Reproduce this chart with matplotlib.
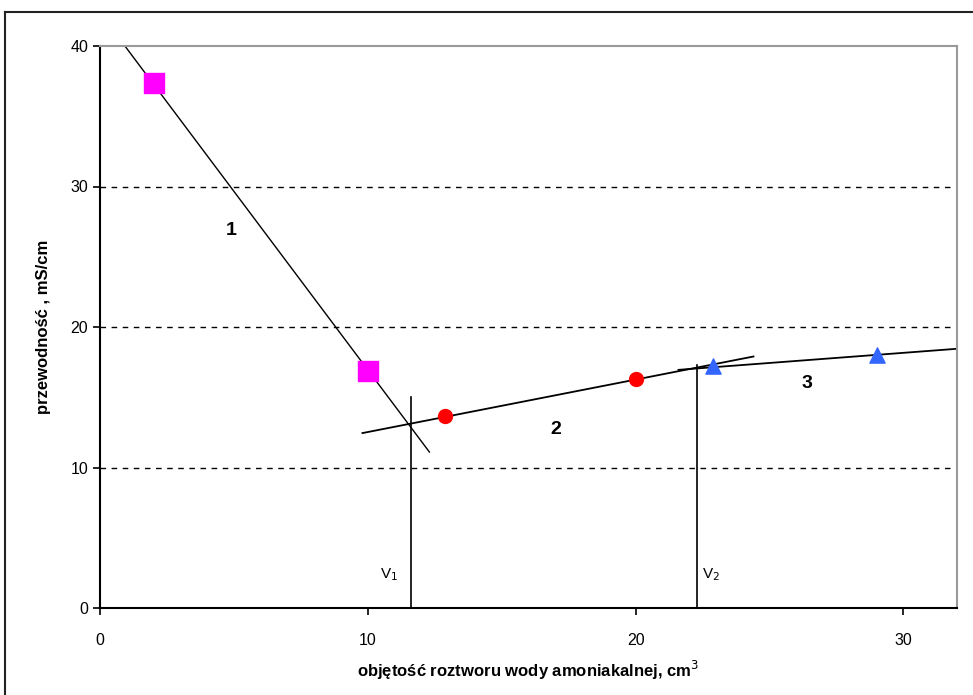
import matplotlib
matplotlib.use("Agg")
import matplotlib.pyplot as plt
from matplotlib.lines import Line2D

plt.rcParams['font.family'] = ['Liberation Sans', 'DejaVu Sans']

# data
sq_x = [2, 10]
sq_y = [37.4, 16.9]
ci_x = [12.9, 20.0]
ci_y = [13.7, 16.3]
tr_x = [22.9, 29.0]
tr_y = [17.2, 18.0]

line1_x = [0.93, 12.3]
line1_y = [40.0, 11.1]
line2_x = [9.8, 24.4]
line2_y = [12.45, 17.9]
line3_x = [21.6, 32.0]
line3_y = [16.95, 18.45]

v1_x, v1_top = 11.6, 15.0
v2_x, v2_top = 22.3, 17.3

xticks = [0, 10, 20, 30]
yticks = [0, 10, 20, 30, 40]

fig = plt.figure(figsize=(9.73, 6.95), dpi=100)
ax = fig.add_axes([100/973, 1-608/695, (957-100)/973, (608-46)/695])

# outer frame
fig.add_artist(Line2D([5/973, 5/973], [0, 1-12/695], color='#222222', lw=1.5, transform=fig.transFigure))
fig.add_artist(Line2D([5/973, 1], [1-12/695, 1-12/695], color='#222222', lw=1.5, transform=fig.transFigure))

for y in [10, 20, 30]:
    ax.axhline(y, color='black', lw=1, ls=(0, (4, 4)), zorder=1)

ax.plot(line1_x, line1_y, color='black', lw=1, zorder=2)
ax.plot(line2_x, line2_y, color='black', lw=1.3, zorder=2)
ax.plot(line3_x, line3_y, color='black', lw=1.3, zorder=2)
ax.plot([v1_x, v1_x], [0, v1_top], color='black', lw=1.2, zorder=2)
ax.plot([v2_x, v2_x], [0, v2_top], color='black', lw=1.2, zorder=2)

ax.scatter(sq_x, sq_y, marker='s', s=200, color='#ff00ff', zorder=3)
ax.scatter(ci_x, ci_y, marker='o', s=100, color='#ff0000', zorder=3)
ax.scatter(tr_x, tr_y, marker='^', s=120, color='#3366ff', zorder=3)

ax.text(4.9, 26.9, '1', fontsize=14, fontweight='bold', ha='center', va='center')
ax.text(17.0, 12.7, '2', fontsize=14, fontweight='bold', ha='center', va='center')
ax.text(26.4, 16.0, '3', fontsize=14, fontweight='bold', ha='center', va='center')
ax.text(10.8, 2.4, 'V$_1$', fontsize=11, ha='center', va='center')
ax.text(22.8, 2.4, 'V$_2$', fontsize=11, ha='center', va='center')

ax.set_xlim(0, 32)
ax.set_ylim(0, 40)
ax.set_xticks(xticks)
ax.set_yticks(yticks)
ax.tick_params(axis='both', labelsize=11.5, length=5, width=1.2, color='black')
ax.tick_params(axis='x', pad=13)
for s in ['left', 'bottom']:
    ax.spines[s].set_color('black')
    ax.spines[s].set_linewidth(1.5)
for s in ['top', 'right']:
    ax.spines[s].set_color('#999999')
    ax.spines[s].set_linewidth(1.5)

ax.set_xlabel('objętość roztworu wody amoniakalnej, cm$^3$', fontsize=12, fontweight='bold', labelpad=8)
ax.set_ylabel('przewodność , mS/cm', fontsize=12, fontweight='bold', labelpad=14)

fig.savefig('out.png', dpi=100)
